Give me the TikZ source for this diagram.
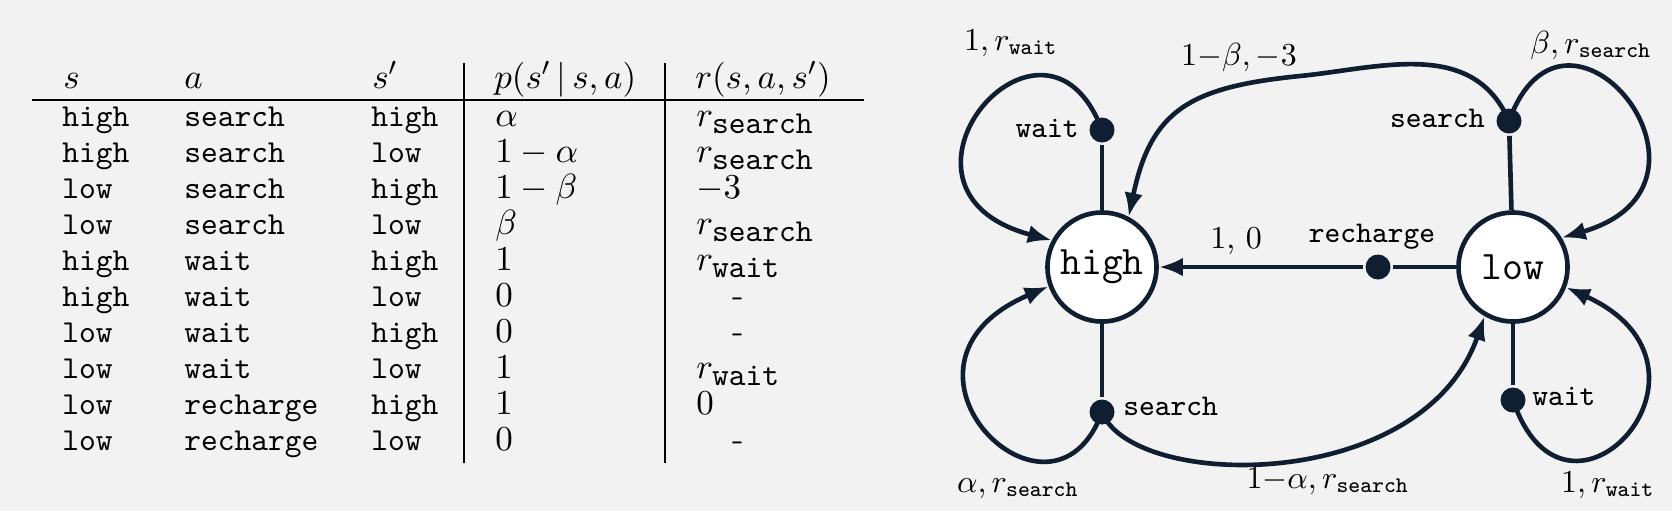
\documentclass[tikz,border=0pt]{standalone}
\usepackage{amsmath}
\usepackage{amssymb}
\usetikzlibrary{arrows.meta}

\definecolor{navy}{RGB}{16,30,50}
\definecolor{paper}{RGB}{242,242,242}
\newcommand{\rtab}[1]{$r_{\mbox{\fontsize{10}{12}\selectfont\ttfamily #1}}$}
\newcommand{\noreward}{\hspace*{11.3pt}-}

\begin{document}
\begin{tikzpicture}
[x=0.011cm,y=-0.011cm,line width=1.45pt]
\tikzstyle{state node}=[circle,draw=navy,fill=white,minimum size=1.2cm,inner sep=0,font=\fontsize{12.7}{15}\selectfont\ttfamily]
\tikzstyle{action node}=[circle,fill=navy,inner sep=0,minimum size=0.275cm]
\tikzstyle{action label}=[inner sep=0,font=\fontsize{9.4}{11}\selectfont\ttfamily]
\tikzstyle{edge label}=[inner sep=0,anchor=base]
\tikzstyle{cell}=[inner sep=0,anchor=base west,font=\fontsize{11}{13}\selectfont]
\tikzstyle{tt cell}=[cell,font=\fontsize{10}{12}\selectfont\ttfamily]
\tikzstyle{transition}=[navy,-{Latex[length=7.5pt,width=5.8pt]}]

\useasboundingbox (0,0) rectangle (1672,511);
\fill[paper] (0,0) rectangle (1672,511);

% table
\node[cell]at(61,88){$s$};
\node[cell]at(182,88){$a$};
\node[cell]at(370,88){$s'$};
\node[cell]at(492,88){$p(s'\,|\,s,a)$};
\node[cell]at(693,88){$r(s,a,s')$};
\draw[line width=0.6pt] (32,100) -- (864,100);
\draw[line width=0.6pt] (464,63) -- (464,463);
\draw[line width=0.6pt] (665,63) -- (665,463);
\foreach \s/\a/\t/\p/\r [count=\i from 0] in
  {high/search/high/$\alpha$/\rtab{search},
   high/search/low/$1-\alpha$/\rtab{search},
   low/search/high/$1-\beta$/$-3$,
   low/search/low/$\beta$/\rtab{search},
   high/wait/high/$1$/\rtab{wait},
   high/wait/low/$0$/\noreward,
   low/wait/high/$0$/\noreward,
   low/wait/low/$1$/\rtab{wait},
   low/recharge/high/$1$/$0$,
   low/recharge/low/$0$/\noreward}{
  \node[tt cell]at(60,126+36*\i){\s};
  \node[tt cell]at(182,126+36*\i){\a};
  \node[tt cell]at(369,126+36*\i){\t};
  \node[cell]at(493,126+36*\i){\p};
  \node[cell]at(694,126+36*\i){\r};
}

% states and actions
\node(high)[state node] at (1102,267){high};
\node(low)[state node] at (1513,267){low};
\node(hwait)[action node] at (1102,130){};
\node(hsearch)[action node] at (1102,412){};
\node(lsearch)[action node] at (1509,121){};
\node(lwait)[action node] at (1513,400){};
\node(recharge)[action node] at (1378,267){};

\draw[navy] (high) -- (hwait);
\draw[navy] (high) -- (hsearch);
\draw[navy] (low) -- (lsearch);
\draw[navy] (low) -- (lwait);
\draw[navy] (low) -- (recharge);
\draw[transition] (recharge) -- (high);

\draw[transition] (hwait.center) .. controls (1044,-24) and (862,190) .. (high.152);
\draw[transition] (hsearch.center) .. controls (1052,550) and (865,365) .. (high.200);
\draw[transition] (hsearch.center) .. controls (1132,490) and (1422,495) .. (low.240);
\draw[transition] (lsearch.center) .. controls (1566,-36) and (1745,185) .. (low.31);
\draw[transition] (lsearch.center) .. controls (1473,38) and (1380,68) .. (1300,76)
  .. controls (1190,87) and (1151,110) .. (high.62);
\draw[transition] (lwait.center) .. controls (1566,558) and (1742,367) .. (low.-21);

\node[action label,anchor=base east]at(1081,137){wait};
\node[action label,anchor=base west]at(1121,415){search};
\node[action label,anchor=base east]at(1487,127){search};
\node[action label,anchor=base west]at(1530,405){wait};
\node[action label,anchor=base]at(1372,242){recharge};

\node[edge label]at(1236,248){1, 0};
\node[edge label]at(1011,50){$1, r_{\texttt{wait}}$};
\node[edge label]at(1239,65){$1{-}\beta, {-}3$};
\node[edge label]at(1591,53){$\beta, r_{\texttt{search}}$};
\node[edge label]at(1018,492){$\alpha, r_{\texttt{search}}$};
\node[edge label]at(1328,488){$1{-}\alpha, r_{\texttt{search}}$};
\node[edge label]at(1608,492){$1, r_{\texttt{wait}}$};
\end{tikzpicture}
\end{document}
